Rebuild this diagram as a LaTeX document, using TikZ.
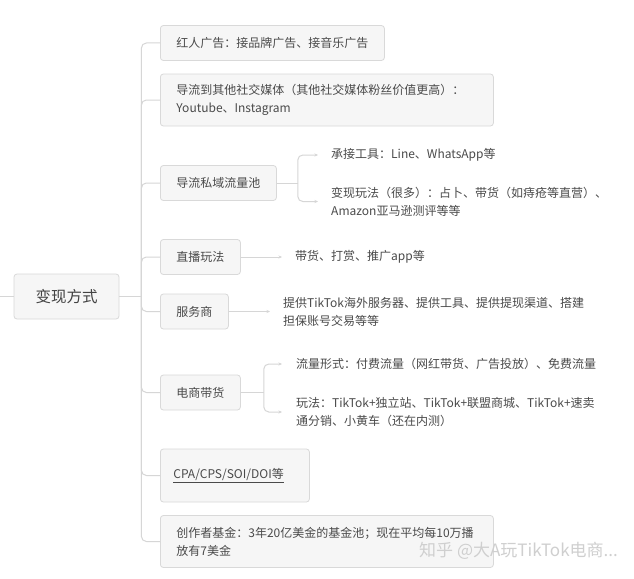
\documentclass[tikz,border=0pt]{standalone}
\usepackage{fontspec}
\setmainfont{Noto Sans CJK SC}
\usetikzlibrary{arrows.meta,positioning}
\definecolor{boxfill}{HTML}{F6F6F6}
\definecolor{boxline}{HTML}{D9D9D9}
\definecolor{wireline}{HTML}{D6D6D6}
\definecolor{textgray}{HTML}{4A4A4A}
\definecolor{markgray}{HTML}{CFCFCF}
\newcommand\mapfont{\fontsize{12pt}{18pt}\selectfont}
\newcommand\rootfont{\fontsize{15.5pt}{18pt}\selectfont}
\tikzset{
  topicbox/.style={draw=boxline, fill=boxfill, rounded corners=3pt, line width=0.8pt,
    text=textgray, font=\mapfont, inner xsep=16pt, inner ysep=0pt,
    minimum height=35pt, anchor=west, align=left},
  widebox/.style={topicbox, text width=301pt, minimum height=52pt},
  leaftext/.style={text=textgray, font=\mapfont, inner sep=0pt, anchor=west, align=left},
  wire/.style={draw=wireline, line width=1pt},
  bracket/.style={wire, rounded corners=5pt},
  leafwire/.style={bracket, -{Stealth[length=3.5pt,width=3pt]}, shorten >=13pt},
}
\begin{document}
\begin{tikzpicture}[x=1pt, y=-1pt]
  \fill[white] (0,0) rectangle (634,578);
  \useasboundingbox (0,0) rectangle (634,578);
  % root
  \node[topicbox, font=\rootfont, text=textgray!90!black, anchor=center,
    inner xsep=0pt, minimum width=105pt, minimum height=45pt] (root) at (66.5,296.5) {变现方式};
  \coordinate (inlet) at (0,296.5);
  \draw[wire] (inlet) -- (root.west);
  \coordinate (spine) at ([xshift=22pt]root.east);
  \draw[wire] (root.east) -- (spine);
  % first level
  \node[topicbox] (star) at (160,43) {红人广告：接品牌广告、接音乐广告};
  \node[widebox] (social) at (160,100) {导流到其他社交媒体（其他社交媒体粉丝价值更高）：\\Youtube、Instagram};
  \node[topicbox] (pool) at (160,183) {导流私域流量池};
  \node[topicbox] (live) at (160,257) {直播玩法};
  \node[topicbox] (service) at (160,311.5) {服务商};
  \node[topicbox] (shop) at (160,392.5) {电商带货};
  \node[topicbox, inner xsep=13pt, text width=123pt, minimum height=53pt] (cpa) at (160,475.5)
    {\underline{CPA/CPS/SOI/DOI等}};
  \node[widebox] (fund) at (160,541.5) {创作者基金：3年20亿美金的基金池；现在平均每10万播\\放有7美金};
  \foreach \topic in {star,social,pool,live,service,shop,cpa,fund}
    \draw[bracket] (spine) |- (\topic.west);
  % second level
  \node[leaftext] (tool) at (331,155) {承接工具：Line、WhatsApp等};
  \node[leaftext] (resale) at (331,201.5) {变现玩法（很多）：占卜、带货（如痔疮等直营）、\\Amazon亚马逊测评等等};
  \coordinate (poolfork) at ([xshift=21pt]pool.east);
  \draw[wire] (pool.east) -- (poolfork);
  \draw[leafwire] (poolfork) |- (tool.west);
  \draw[leafwire] (poolfork) |- (resale.west);
  \node[leaftext] (livetip) at (295,257) {带货、打赏、推广app等};
  \draw[leafwire] (live.east) -- (livetip.west);
  \node[leaftext] (servicetip) at (283,311.5) {提供TikTok海外服务器、提供工具、提供提现渠道、搭建\\担保账号交易等等};
  \draw[leafwire] (service.east) -- (servicetip.west);
  \node[leaftext] (traffic) at (296,364) {流量形式：付费流量（网红带货、广告投放）、免费流量};
  \node[leaftext] (playway) at (296,412) {玩法：TikTok+独立站、TikTok+联盟商城、TikTok+速卖\\通分销、小黄车（还在内测）};
  \coordinate (shopfork) at ([xshift=23pt]shop.east);
  \draw[wire] (shop.east) -- (shopfork);
  \draw[leafwire, shorten >=14pt] (shopfork) |- (traffic.west);
  \draw[leafwire, shorten >=14pt] (shopfork) |- (playway.west);
  % watermark
  \node[font=\fontsize{17pt}{17pt}\selectfont, text=markgray, anchor=east, inner sep=0pt] (mark)
    at (618,551) {知乎 @大A玩TikTok电商...};
\end{tikzpicture}
\end{document}
